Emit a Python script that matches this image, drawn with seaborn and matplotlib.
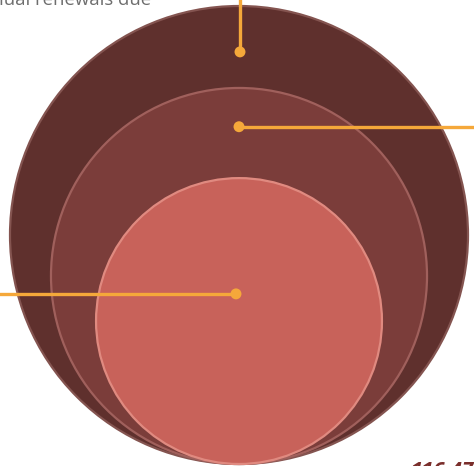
import matplotlib
matplotlib.use("Agg")
import matplotlib.pyplot as plt
from matplotlib.patches import Circle
import seaborn as sns
import numpy as np
import pandas as pd

# data
labels = ["Annual renewals due", "Renewals contacted", "Renewals completed"]
values = [298900, 201500, 116470]
value_label = "116,470"

sns.set_theme(style="white")
plt.rcParams['font.family'] = ['Open Sans', 'DejaVu Sans']

W, H = 474, 466
fig = plt.figure(figsize=(W / 100, H / 100), dpi=100)
ax = fig.add_axes([0, 0, 1, 1])

fills = ["#5F302D", "#7B3D3A", "#C8625A"]
edges = ["#845450", "#A0605C", "#E08A80"]

cx, base = 239, 464
k = 229 / np.sqrt(values[0])
radii = [k * np.sqrt(v) for v in values]
tops = [base - 2 * r for r in radii]

for r, f, e in zip(radii, fills, edges):
    ax.add_patch(Circle((cx, base - r), r, facecolor=f, edgecolor=e, lw=1.6, zorder=2))

# anchor points for callouts
anchors_y = [tops[0] + 0.56 * (tops[1] - tops[0]),
             tops[1] + 0.43 * (tops[2] - tops[1]),
             base - radii[2] - 0.19 * radii[2]]
anchors_x = [cx + 1, cx, cx - 3]
orange = "#F5A83A"

# leader lines
ax.plot([anchors_x[0], anchors_x[0]], [anchors_y[0], -5], color=orange, lw=2.4, zorder=3, solid_capstyle="butt")
ax.plot([anchors_x[1], W + 5], [anchors_y[1], anchors_y[1]], color=orange, lw=2.4, zorder=3, solid_capstyle="butt")
ax.plot([anchors_x[2], -5], [anchors_y[2], anchors_y[2]], color=orange, lw=2.4, zorder=3, solid_capstyle="butt")

df = pd.DataFrame({"x": anchors_x, "y": anchors_y, "label": labels})
sns.scatterplot(data=df, x="x", y="y", ax=ax, s=62, color=orange, edgecolor="none", zorder=4, legend=False)
ax.set_xlim(0, W)
ax.set_ylim(H, 0)
ax.axis("off")

ax.text(151, 5, labels[0], ha="right", va="baseline", fontsize=13.3, color="#6E6E6E")
ax.text(410, 477, value_label, ha="left", va="baseline", fontsize=15, color="#7A2E2B",
        fontweight="bold", fontstyle="italic")

fig.savefig("out.png", dpi=100)
